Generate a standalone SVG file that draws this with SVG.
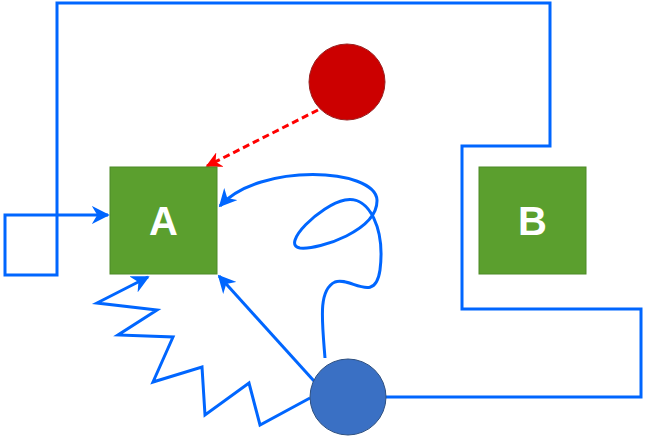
<svg xmlns="http://www.w3.org/2000/svg" width="648" height="439" viewBox="0 0 648 439">
<defs>
<style>
.c{fill:none;stroke:#0066ff;stroke-width:3;stroke-linejoin:miter}
.n{fill:#5b9f2e;stroke:#4c8a26;stroke-width:1}
.t{font-family:"Liberation Sans",Arial,sans-serif;font-weight:bold;font-size:40px;fill:#fff;text-anchor:middle}
</style>
<marker id="ab" viewBox="0 0 10 10" refX="9" refY="5" markerWidth="6" markerHeight="6" orient="auto" markerUnits="userSpaceOnUse" style="overflow:visible"><path d="M0,0 L10,5 L0,10 L3,5 Z" fill="#0066ff" transform="scale(1.8) translate(-4,-2.2)"/></marker>
<marker id="ar" viewBox="0 0 10 10" refX="9" refY="5" markerWidth="16" markerHeight="16" orient="auto" markerUnits="userSpaceOnUse"><path d="M0,0 L10,5 L0,10 L3,5 Z" fill="#ff0000"/></marker>
<marker id="abl" viewBox="0 0 10 10" refX="9" refY="5" markerWidth="18" markerHeight="18" orient="auto" markerUnits="userSpaceOnUse"><path d="M0,0 L10,5 L0,10 L3,5 Z" fill="#0066ff"/></marker>
</defs>
<g id="connectors">
<path class="c" d="M386,397 H641 V309 H462 V146 H550 V3 H57 V275 H5 V215 H108" marker-end="url(#abl)"/>
<path class="c" d="M310,398 L260,425 L249,383 L205,415 L202,367 L153,382 L173,337 L118,335 L157,310 L97,303 L148,277" marker-end="url(#abl)"/>
<path class="c" d="M314,381 L219,276" marker-end="url(#abl)"/>
<path class="c" d="M325,358 C322,320 318,290 335,282 C350,276 375,305 380,270 C385,230 370,195 345,200 C320,205 280,245 300,248 C320,250 378,230 377,200 C375,168 260,162 220,206" marker-end="url(#abl)"/>
<path d="M318,110 L207,166" fill="none" stroke="#ff0000" stroke-width="3" stroke-dasharray="7,4" marker-end="url(#ar)"/>
</g>
<g id="A"><rect class="n" x="110" y="167" width="107" height="107"/><text class="t" x="163.5" y="235">A</text></g>
<g id="B"><rect class="n" x="479" y="167" width="107" height="107"/><text class="t" x="532.5" y="235">B</text></g>
<g id="red"><circle cx="347" cy="82" r="38" fill="#cc0000" stroke="#992222" stroke-width="1"/></g>
<g id="blue"><circle cx="348" cy="397" r="38" fill="#3a70c4" stroke="#2d4f80" stroke-width="1"/></g>
</svg>
